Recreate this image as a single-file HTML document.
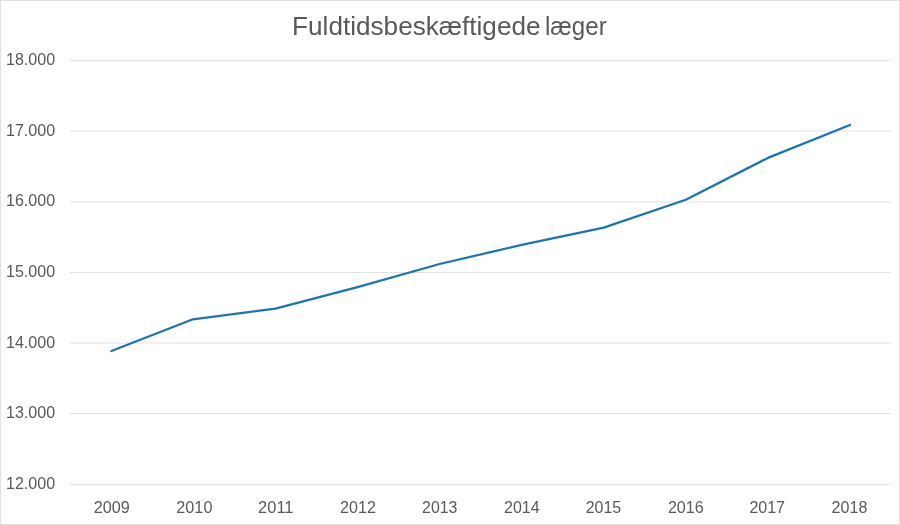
<!DOCTYPE html>
<html><head><meta charset="utf-8"><title>Fuldtidsbeskæftigede læger</title><style>
html,body{margin:0;padding:0;background:#fff;}
svg{display:block;will-change:transform;}
text{font-family:"Liberation Sans",sans-serif;fill:#595959;}
</style></head><body>
<svg width="900" height="525" viewBox="0 0 900 525">
<rect x="0.5" y="0.5" width="899" height="524" fill="none" stroke="#e0e0e0" stroke-width="1"/>
<g fill="#e1e1e1">
<rect x="70" width="821" y="60" height="1"/>
<rect x="70" width="821" y="130.5" height="1"/>
<rect x="70" width="821" y="201.5" height="1"/>
<rect x="70" width="821" y="272" height="1"/>
<rect x="70" width="821" y="342.5" height="1"/>
<rect x="70" width="821" y="413" height="1"/>
<rect x="70" width="821" y="484" height="1"/>
</g>
<g font-size="26"><text x="292.1" y="35" textLength="248.4" lengthAdjust="spacingAndGlyphs">Fuldtidsbeskæftigede</text> <text x="545" y="35" textLength="61.7" lengthAdjust="spacingAndGlyphs">læger</text></g>
<g font-size="16">
<text x="55.1" y="65.20" text-anchor="end" textLength="49.1" lengthAdjust="spacingAndGlyphs">18.000</text>
<text x="55.1" y="136.20" text-anchor="end" textLength="49.1" lengthAdjust="spacingAndGlyphs">17.000</text>
<text x="55.1" y="206.20" text-anchor="end" textLength="49.1" lengthAdjust="spacingAndGlyphs">16.000</text>
<text x="55.1" y="277.20" text-anchor="end" textLength="49.1" lengthAdjust="spacingAndGlyphs">15.000</text>
<text x="55.1" y="348.20" text-anchor="end" textLength="49.1" lengthAdjust="spacingAndGlyphs">14.000</text>
<text x="55.1" y="418.20" text-anchor="end" textLength="49.1" lengthAdjust="spacingAndGlyphs">13.000</text>
<text x="55.1" y="489.20" text-anchor="end" textLength="49.1" lengthAdjust="spacingAndGlyphs">12.000</text>
</g>
<g font-size="16.2">
<text x="93.85" y="513" textLength="36.03" lengthAdjust="spacingAndGlyphs">2009</text>
<text x="176.36" y="513" textLength="36.03" lengthAdjust="spacingAndGlyphs">2010</text>
<text x="258.11" y="513" textLength="35.33" lengthAdjust="spacingAndGlyphs">2011</text>
<text x="340.04" y="513" textLength="35.81" lengthAdjust="spacingAndGlyphs">2012</text>
<text x="422.05" y="513" textLength="35.37" lengthAdjust="spacingAndGlyphs">2013</text>
<text x="504.05" y="513" textLength="35.61" lengthAdjust="spacingAndGlyphs">2014</text>
<text x="585.67" y="513" textLength="35.48" lengthAdjust="spacingAndGlyphs">2015</text>
<text x="667.90" y="513" textLength="35.79" lengthAdjust="spacingAndGlyphs">2016</text>
<text x="749.38" y="513" textLength="35.65" lengthAdjust="spacingAndGlyphs">2017</text>
<text x="831.62" y="513" textLength="35.72" lengthAdjust="spacingAndGlyphs">2018</text>
</g>
<polyline points="111.40,351.0 192.90,319.3 275.44,308.6 357.51,287.1 439.58,264.0 521.65,244.9 603.72,227.6 685.79,199.8 767.86,157.9 849.93,125.0" fill="none" stroke="#1a75b2" stroke-width="2.25" stroke-linejoin="round" stroke-linecap="round"/>
</svg>
</body></html>
